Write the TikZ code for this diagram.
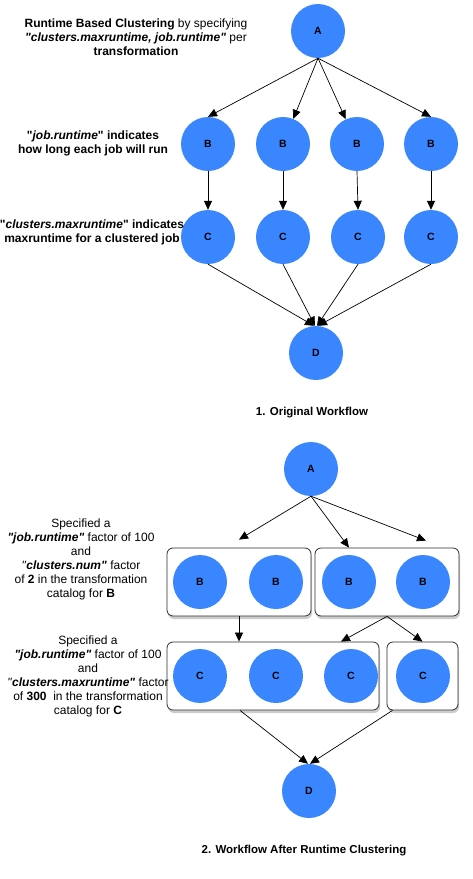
\documentclass[tikz,border=0pt]{standalone}
\usepackage{fontspec}
\setmainfont{Liberation Sans}[Ligatures=TeXOff]
\usepackage{xcolor}
\definecolor{job-fill}{HTML}{3A86FF}
\definecolor{group-border}{HTML}{2E2E2E}
\usepackage{tikz}
\usetikzlibrary{
  arrows.meta,
  positioning,
  shadows
}

\begin{document}
\begin{tikzpicture}[
    x=1pt, y=-1pt,
    job/.style={
      circle,
      fill=job-fill,
      minimum size=54pt,
      inner sep=0pt,
      font=\bfseries\fontsize{10.5}{12}\selectfont
    },
    group/.style={
      rectangle,
      draw=group-border,
      fill=white,
      rounded corners=6pt,
      line width=0.8pt,
      minimum height=68pt,
      drop shadow={shadow xshift=1pt, shadow yshift=-3pt, opacity=0.4}
    },
    note/.style={
      align=center,
      font=\fontsize{12}{14}\selectfont
    },
    boldnote/.style={
      note,
      font=\bfseries\fontsize{12}{13.5}\selectfont
    },
    caption/.style={
      font=\bfseries\fontsize{11.5}{14}\selectfont
    },
    dep/.style={
      -{Triangle[length=9pt,width=8pt]},
      line width=0.7pt
    }
  ]
    \useasboundingbox (0,0) rectangle (472,879);

    % 1. original workflow
    \node[job] (A1) at (318, 31)  {A};
    \node[job] (B1) at (208, 144) {B};
    \node[job] (B2) at (283, 144) {B};
    \node[job] (B3) at (357, 144) {B};
    \node[job] (B4) at (431, 144) {B};
    \node[job] (C1) at (208, 237) {C};
    \node[job] (C2) at (283, 237) {C};
    \node[job] (C3) at (358, 237) {C};
    \node[job] (C4) at (431, 237) {C};
    \node[job] (D1) at (316, 353) {D};

    % A -> B
    \draw[dep] (A1.south) -- (B1.north);
    \draw[dep] (A1.south) -- (B2);
    \draw[dep] (A1.south) -- (B3);
    \draw[dep] (A1.south) -- (B4.north);
    % B -> C
    \draw[dep] (B1.south) -- (C1.north);
    \draw[dep] (B2.south) -- (C2.north);
    \draw[dep] (B3.south) -- (C3.north);
    \draw[dep] (B4.south) -- (C4.north);
    % C -> D
    \draw[dep] (C1.south) -- ([xshift=-2pt]D1.north);
    \draw[dep] (C2.south) -- ([xshift=-1pt]D1.north);
    \draw[dep] (C3.south) -- ([xshift=1pt]D1.north);
    \draw[dep] (C4.south) -- ([xshift=2pt]D1.north);

    \node[caption] (title1) at (312, 413) {1. Original Workflow};

    % 2. workflow after runtime clustering
    \node[group, minimum width=144pt] (G1) at (239, 582)   {};
    \node[group, minimum width=144pt] (G2) at (387, 582)   {};
    \node[group, minimum width=212pt] (G3) at (273, 676)   {};
    \node[group, minimum width=71pt]  (G4) at (422.5, 676) {};

    \node[job] (A2)  at (311, 469) {A};
    \node[job] (B5)  at (200, 582) {B};
    \node[job] (B6)  at (276, 582) {B};
    \node[job] (B7)  at (349, 582) {B};
    \node[job] (B8)  at (423, 582) {B};
    \node[job] (C5)  at (200, 676) {C};
    \node[job] (C6)  at (276, 676) {C};
    \node[job] (C7)  at (351, 676) {C};
    \node[job] (C8)  at (423, 676) {C};
    \node[job] (D2)  at (309, 791) {D};

    % A -> clustered B
    \draw[dep] (A2.south) -- ([yshift=8pt]G1.north);
    \draw[dep] (A2.south) -- ([xshift=-38pt]G2.north);
    \draw[dep] (A2.south) -- ([xshift=39pt, yshift=7pt]G2.north);
    % clustered B -> clustered C
    \draw[dep] (G1.south) -- (G1.south |- G3.north);
    \draw[dep] (G2.south) -- ([xshift=68pt]G3.north);
    \draw[dep] (G2.south) -- (G4.north);
    % clustered C -> D
    \draw[dep] ([xshift=-33pt]G3.south) -- ([xshift=-1pt]D2.north);
    \draw[dep] ([xshift=-30pt]G4.south) -- ([xshift=1pt]D2.north);

    \node[caption] (title2) at (304, 851) {2. Workflow After Runtime Clustering};

    % notes
    \node[note] (runtime) at (136, 37) {\textbf{Runtime Based Clustering} by specifying\\
      \textbf{\textit{"clusters.maxruntime, job.runtime"}} per\\
      \textbf{transformation}};
    \node[boldnote] (jobnote) at (93, 143.5) {"\textit{job.runtime}" indicates\\
      how long each job will run};
    \node[boldnote] (maxnote) at (92, 232.5) {"\textit{clusters.maxruntime}" indicates\\
      maxruntime for a clustered job};
    \node[note] (bnote) at (81, 559) {Specified a\\
      \textbf{\textit{"job.runtime"}} factor of 100\\
      and\\
      \textit{"}\textbf{\textit{clusters.num"}} factor\\
      of \textbf{2} in the transformation\\
      catalog for \textbf{B}};
    \node[note] (cnote) at (88, 676) {Specified a\\
      \textbf{\textit{"job.runtime"}} factor of 100\\
      and\\
      \textit{"}\textbf{\textit{clusters.maxruntime"}} factor\\
      of \textbf{300}\ \ in the transformation\\
      catalog for \textbf{C}};
  \end{tikzpicture}
\end{document}
